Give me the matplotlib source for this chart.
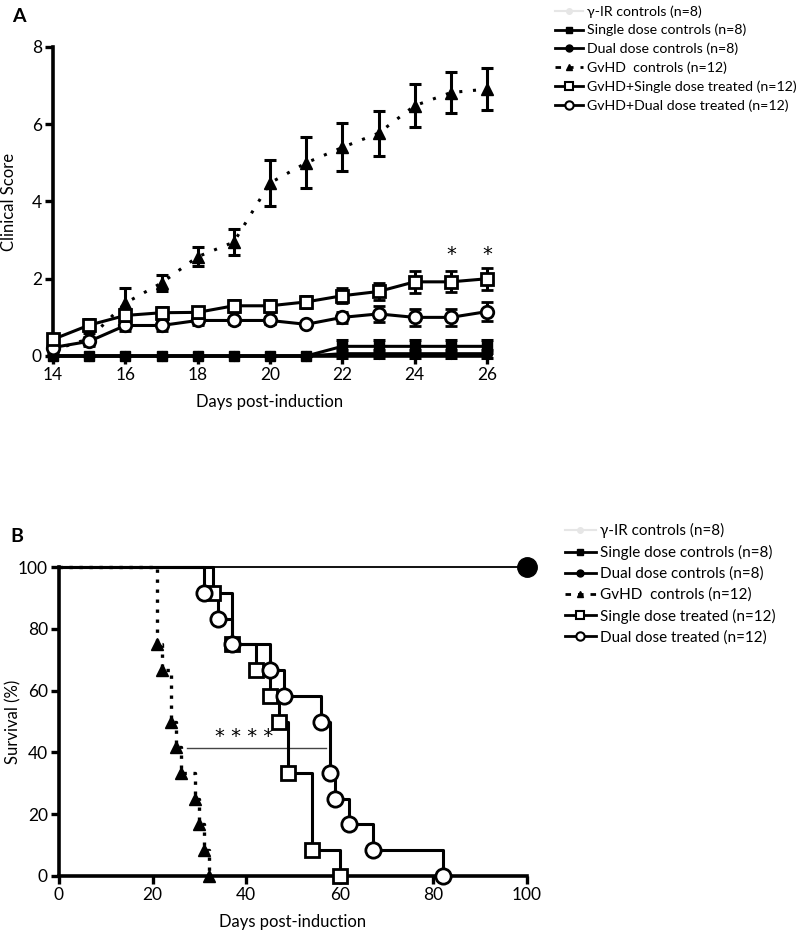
import numpy as np
import matplotlib
matplotlib.use("Agg")
import matplotlib.pyplot as plt
from matplotlib.lines import Line2D

plt.rcParams['font.family'] = ['Lato', 'DejaVu Sans']

# ---- panel A: clinical score ----
days = np.arange(14, 27)
gvhd_mean = [0.15, 0.45, 1.37, 1.89, 2.57, 2.95, 4.48, 5.0, 5.4, 5.77, 6.48, 6.82, 6.91]
gvhd_err = [0.1, 0.15, 0.38, 0.2, 0.25, 0.34, 0.6, 0.66, 0.62, 0.58, 0.55, 0.54, 0.55]
single_tr_mean = [0.43, 0.8, 1.05, 1.12, 1.13, 1.3, 1.3, 1.4, 1.56, 1.67, 1.92, 1.92, 2.0]
single_tr_err = [0.12, 0.15, 0.15, 0.15, 0.15, 0.15, 0.15, 0.15, 0.2, 0.22, 0.28, 0.27, 0.28]
dual_tr_mean = [0.22, 0.38, 0.79, 0.79, 0.92, 0.92, 0.92, 0.82, 1.0, 1.09, 1.0, 1.0, 1.15]
dual_tr_err = [0.1, 0.12, 0.15, 0.15, 0.12, 0.1, 0.1, 0.05, 0.15, 0.2, 0.22, 0.22, 0.24]
single_ctrl_mean = [0, 0, 0, 0, 0, 0, 0, 0, 0.25, 0.25, 0.25, 0.25, 0.25]
single_ctrl_err = [0, 0, 0, 0, 0, 0, 0, 0, 0.16, 0.16, 0.16, 0.16, 0.16]
dual_ctrl_mean = [0, 0, 0, 0, 0, 0, 0, 0, 0.06, 0.06, 0.06, 0.06, 0.06]
dual_ctrl_err = [0, 0, 0, 0, 0, 0, 0, 0, 0.1, 0.1, 0.1, 0.1, 0.1]
gir_mean = [0] * 13
star_days = [25, 26]

labels_a = ['γ-IR controls (n=8)', 'Single dose controls (n=8)',
            'Dual dose controls (n=8)', 'GvHD  controls (n=12)',
            'GvHD+Single dose treated (n=12)', 'GvHD+Dual dose treated (n=12)']
labels_b = ['γ-IR controls (n=8)', 'Single dose controls (n=8)',
            'Dual dose controls (n=8)', 'GvHD  controls (n=12)',
            'Single dose treated (n=12)', 'Dual dose treated (n=12)']

# ---- panel B: survival ----
gvhd_t = [0, 21, 22, 24, 25, 26, 29, 30, 31, 32]
gvhd_s = [100, 75, 66.7, 50, 41.7, 33.3, 25, 16.7, 8.3, 0]
single_t = [0, 33, 37, 42, 45, 47, 49, 54, 60]
single_s = [100, 91.7, 75, 66.7, 58.3, 50, 33.3, 8.3, 0]
dual_t = [0, 31, 34, 37, 45, 48, 56, 58, 59, 62, 67, 82]
dual_s = [100, 91.7, 83.3, 75, 66.7, 58.3, 50, 33.3, 25, 16.7, 8.3, 0]
ctrl_t = [0, 100]
ctrl_s = [100, 100]

fig = plt.figure(figsize=(8, 9.34), dpi=100)
axA = fig.add_axes([53/800, 1-356/934, (487-53)/800, (356-47)/934])
axB = fig.add_axes([59/800, 1-876/934, (527-59)/800, (876-567)/934])

lw = 2.2
eb = dict(capsize=4.5, capthick=2.2, elinewidth=2.2, clip_on=False)

axA.plot(days, gir_mean, color='#e6e6e6', lw=1.5, marker='o', ms=4, clip_on=False, zorder=1)
axA.errorbar(days, dual_ctrl_mean, yerr=dual_ctrl_err, color='k', lw=lw, marker='o', ms=7,
             zorder=3, **eb)
axA.errorbar(days, single_ctrl_mean, yerr=single_ctrl_err, color='k', lw=lw, marker='s', ms=7,
             zorder=3, **eb)
axA.errorbar(days, gvhd_mean, yerr=gvhd_err, color='k', lw=2.2, ls=(0, (1, 3.5)), marker='^',
             ms=8, zorder=4, **eb)
axA.errorbar(days, dual_tr_mean, yerr=dual_tr_err, color='k', lw=lw, marker='o', ms=9,
             mfc='white', mew=2, zorder=5, **eb)
axA.errorbar(days, single_tr_mean, yerr=single_tr_err, color='k', lw=lw, marker='s', ms=9,
             mfc='white', mew=2, zorder=6, **eb)
for d in star_days:
    axA.text(d, 2.62, '*', ha='center', va='center', fontsize=14, family='DejaVu Sans')

axA.set_xlim(14, 26)
axA.set_ylim(0, 8)
axA.set_xticks(range(14, 27, 2))
axA.set_yticks(range(0, 9, 2))
axA.set_ylabel('Clinical Score', fontsize=12)
axA.yaxis.set_label_coords(-0.082, 0.5)
axA.set_xlabel('Days post-induction', fontsize=12, labelpad=8)

# survival curves
axB.plot(ctrl_t, ctrl_s, color='#e6e6e6', lw=1.5, clip_on=False, zorder=1)
axB.plot(ctrl_t, ctrl_s, color='k', lw=1.3, clip_on=False, zorder=2)
axB.plot([100], [100], 'o', color='k', ms=14, clip_on=False, zorder=6)
axB.step(gvhd_t, gvhd_s, where='post', color='k', lw=2.4, ls=(0, (1, 2)), zorder=3,
         clip_on=False)
axB.plot(gvhd_t[1:], gvhd_s[1:], '^', color='k', ms=8, clip_on=False, zorder=4)
axB.step(single_t, single_s, where='post', color='k', lw=lw, zorder=3, clip_on=False)
axB.plot(single_t[1:], single_s[1:], 's', color='k', mfc='white', mew=2, ms=10,
         clip_on=False, zorder=5)
axB.step(dual_t, dual_s, where='post', color='k', lw=lw, zorder=3, clip_on=False)
axB.plot(dual_t[1:], dual_s[1:], 'o', color='k', mfc='white', mew=2, ms=11,
         clip_on=False, zorder=5)
axB.plot([27.3, 57], [41.5, 41.5], color='#444444', lw=1, zorder=2)
axB.text(39.5, 45, '* * * *', ha='center', va='center', fontsize=14, family='DejaVu Sans')

axB.set_xlim(0, 100)
axB.set_ylim(0, 100)
axB.set_xticks(range(0, 101, 20))
axB.set_yticks(range(0, 101, 20))
axB.set_ylabel('Survival (%)', fontsize=12)
axB.yaxis.set_label_coords(-0.081, 0.5)
axB.set_xlabel('Days post-induction', fontsize=12, labelpad=8)

for ax in (axA, axB):
    for s in ('top', 'right'):
        ax.spines[s].set_visible(False)
    for s in ('left', 'bottom'):
        ax.spines[s].set_linewidth(2.6)
    ax.tick_params(width=2.4, length=6, labelsize=12.5, direction='out', pad=2)

fig.text(12/800, 1-17/934, 'A', fontsize=14, fontweight='bold', va='center')
fig.text(10/800, 1-537/934, 'B', fontsize=14, fontweight='bold', va='center')

# legends
def handles():
    return [
        Line2D([], [], color='#e6e6e6', lw=1.5, marker='o', ms=4),
        Line2D([], [], color='k', lw=2, marker='s', ms=5),
        Line2D([], [], color='k', lw=2, marker='o', ms=5),
        Line2D([], [], color='k', lw=2, ls=(0, (2, 2.5)), marker='^', ms=5),
        Line2D([], [], color='k', lw=2, marker='s', ms=6, mfc='white', mew=1.5),
        Line2D([], [], color='k', lw=2, marker='o', ms=6, mfc='white', mew=1.5),
    ]

fig.legend(handles(), labels_a, loc='upper left', bbox_to_anchor=(555/800, 1-5/934),
           frameon=False, fontsize=10.2, handlelength=2.0, handletextpad=0.25,
           labelspacing=0.45, borderpad=0, borderaxespad=0)
fig.legend(handles(), labels_b, loc='upper left', bbox_to_anchor=(565/800, 1-523/934),
           frameon=False, fontsize=11, handlelength=2.0, handletextpad=0.3,
           labelspacing=0.44, borderpad=0, borderaxespad=0)

fig.savefig('out.png', dpi=100)
